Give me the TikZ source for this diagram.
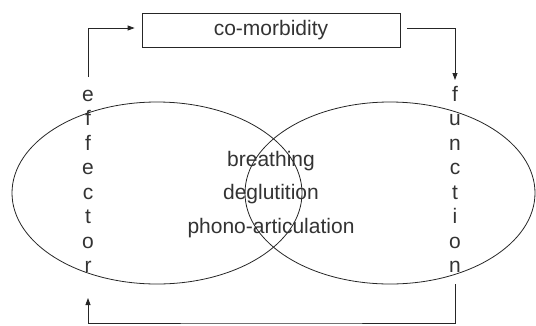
\documentclass[tikz,border=0pt]{standalone}
\usepackage{fontspec}
\setmainfont{Liberation Sans}
\usetikzlibrary{arrows.meta}
\definecolor{ink}{HTML}{262626}
\definecolor{txt}{HTML}{333333}
\begin{document}
\begin{tikzpicture}[x=1pt,y=-1pt,
  lbl/.style={font=\fontsize{21}{24}\selectfont,text=txt,inner sep=0pt},
  letter/.style={lbl,anchor=base},
  loop/.style={draw=ink,line width=0.8pt},
  flow/.style={draw=ink,line width=0.8pt,-{Triangle[length=7pt,width=5pt]}},
  topbox/.style={draw=ink,line width=0.8pt,minimum width=258pt,minimum height=34pt,lbl}]
\useasboundingbox (0,0) rectangle (536,325);

% two overlapping ovals
\draw[loop] (157,193) ellipse [x radius=145pt, y radius=91pt];
\draw[loop] (390,193) ellipse [x radius=145pt, y radius=91pt];

% shared activities in the overlap
\node[letter] (br) at (271,166) {breathing};
\node[letter] (dg) at (271,199.5) {deglutition};
\node[letter] (ph) at (271,233) {phono-articulation};

% top box
\node[topbox] (cm) at (271,30) {co-morbidity};

% vertical words
\foreach \c [count=\i] in {e,f,f,e,c,t,o,r}
  \node[letter] (e\i) at (88,{101+24.5*(\i-1)}) {\c};
\foreach \c [count=\i] in {f,u,n,c,t,i,o,n}
  \node[letter] (f\i) at (455,{101+24.5*(\i-1)}) {\c};

% loose ends of the cycle
\coordinate (effTop) at (88,77);
\coordinate (effBot) at (88,298);
\coordinate (funTop) at (455,80);
\coordinate (funBot) at (455,284);
\coordinate (baseRow) at (271,323);

% cycle connectors
\draw[flow,shorten >=7pt] (effTop) |- ([yshift=2pt]cm.west);
\draw[flow,shorten <=7pt] ([yshift=2pt]cm.east) -| (funTop);
\draw[flow] (funBot) |- (baseRow) -| (effBot);
\end{tikzpicture}
\end{document}
